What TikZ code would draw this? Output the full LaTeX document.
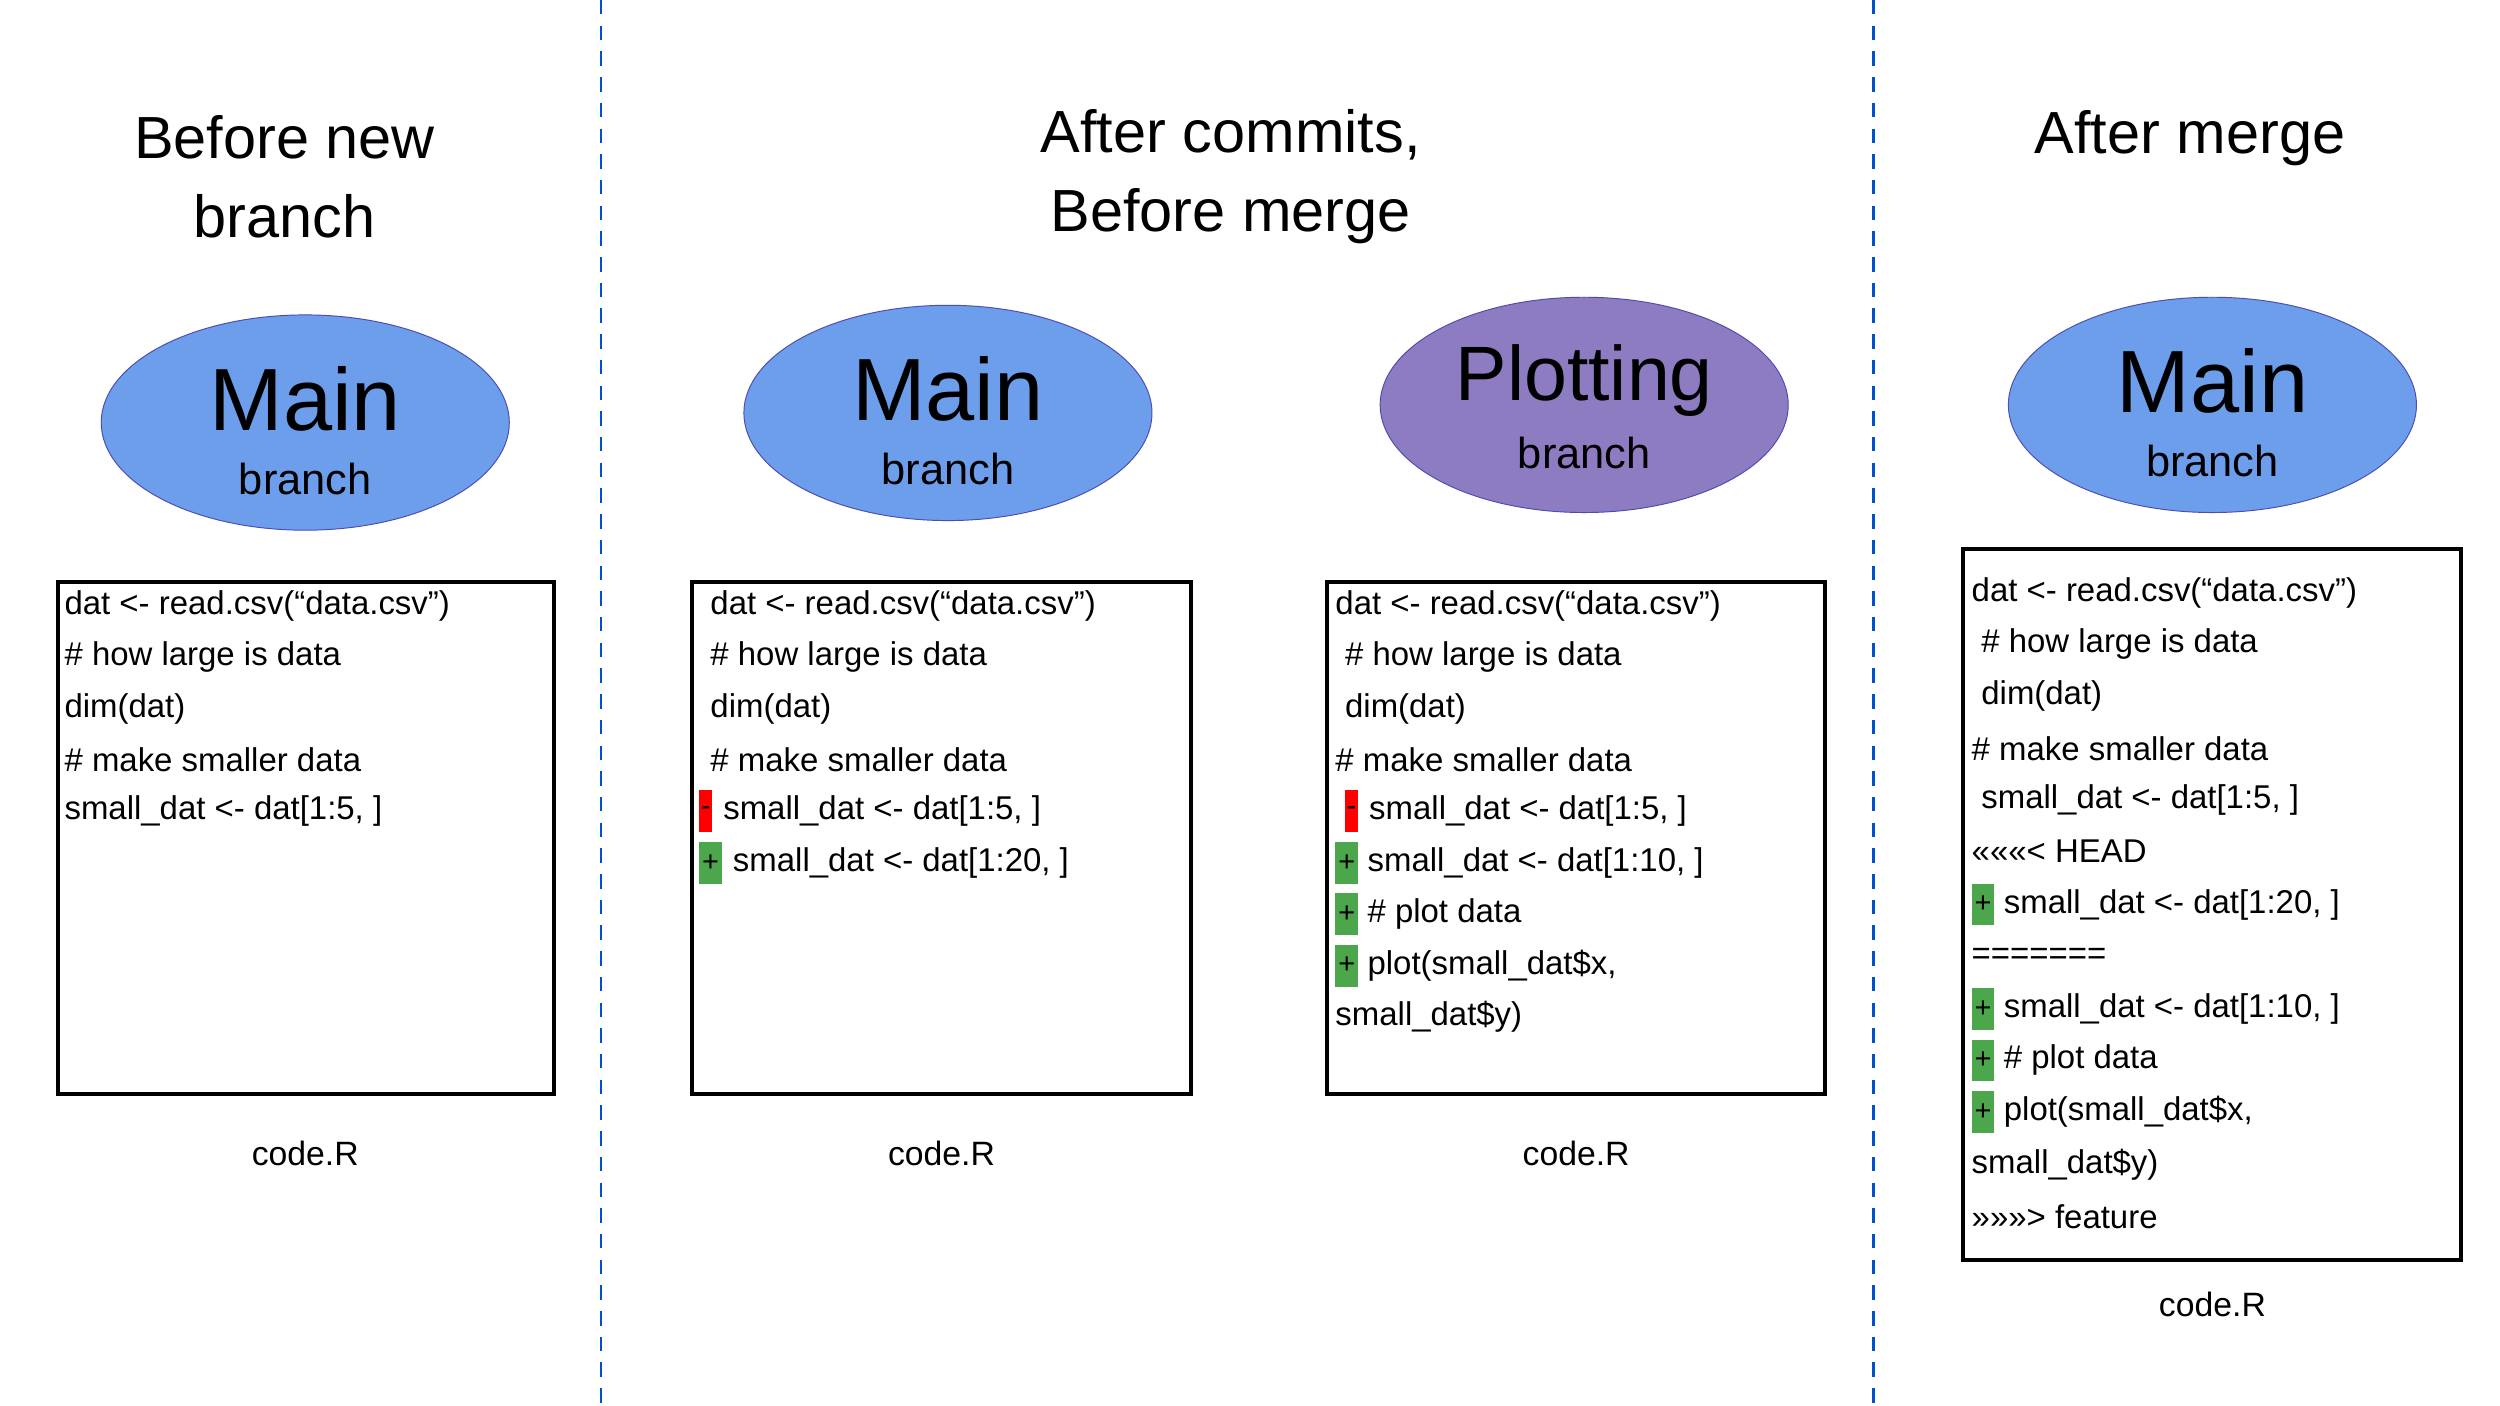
\documentclass[tikz,border=0pt]{standalone}
\usepackage{fontspec}
\setmainfont{Liberation Sans}
\begin{document}
\begin{tikzpicture}[x=1pt,y=-1pt,
  sep/.style={draw=blue!60!cyan!80!black,dashed,line width=1.6pt,dash pattern=on 9pt off 7pt},
  ttl/.style={font=\fontsize{37}{49}\selectfont,align=center,inner sep=0},
  bub/.style={ellipse,draw=blue!40!gray,line width=0.6pt,minimum width=254pt,minimum height=134pt},
  big/.style={font=\fontsize{55}{60}\selectfont,inner sep=0},
  small/.style={font=\fontsize{27}{30}\selectfont,inner sep=0},
  codebox/.style={draw=black,line width=2.5pt},
  cl/.style={anchor=west,font=\fontsize{20.5}{24}\selectfont,inner sep=0},
  fn/.style={font=\fontsize{21}{24}\selectfont,inner sep=0},
  plus/.style={fill=green!50!black!70!white,minimum width=14pt,minimum height=26pt,inner sep=0,font=\fontsize{18}{20}\selectfont,anchor=west},
  minus/.style={fill=red,minimum width=8pt,minimum height=26pt,inner sep=0,font=\fontsize{18}{20}\selectfont,anchor=west}
]
\usetikzlibrary{shapes.geometric}
\definecolor{mainblue}{HTML}{6D9EEB}
\definecolor{plotpurple}{HTML}{8E7CC3}
\fill[white] (0,0) rectangle (1556,875);
\useasboundingbox (0,0) rectangle (1556,875);
\coordinate (s1t) at (374,0); \coordinate (s1b) at (374,875);
\coordinate (s2t) at (1166,0); \coordinate (s2b) at (1166,875);
\draw[sep] (s1t) -- (s1b);
\draw[sep] (s2t) -- (s2b);
\node[ttl] (t1) at (177,110) {Before new\\branch};
\node[ttl] (t2) at (766,110) {After commits,\\Before merge};
\node[ttl] (t3) at (1363,86) {After merge};
% ellipses
\node[bub,fill=mainblue] (e1) at (190,263) {};
\node[big] (m1) at (190,248) {Main}; \node[small] (b1) at (190,298) {branch};
\node[bub,fill=mainblue] (e2) at (590,257) {};
\node[big] (m2) at (590,242) {Main}; \node[small] (b2) at (590,292) {branch};
\node[bub,fill=plotpurple] (e3) at (986,252) {};
\node[big,font=\fontsize{48}{52}\selectfont] (m3) at (986,237) {Plotting}; \node[small] (b3) at (986,282) {branch};
\node[bub,fill=mainblue] (e4) at (1377,252) {};
\node[big] (m4) at (1377,237) {Main}; \node[small] (b4) at (1377,287) {branch};
% boxes
\draw[codebox] (36,362) rectangle (345,681);
\draw[codebox] (431,362) rectangle (741,681);
\draw[codebox] (826,362) rectangle (1136,681);
\draw[codebox] (1222,342) rectangle (1532,784);
% box1
\node[cl] (a1) at (40,377) {dat <- read.csv(“data.csv”)};
\node[cl] (a2) at (40,409) {\# how large is data};
\node[cl] (a3) at (40,441) {dim(dat)};
\node[cl] (a4) at (40,473) {\# make smaller data};
\node[cl] (a5) at (40,505) {small\_dat <- dat[1:5, ]};
% box2
\node[cl] (c1) at (442,377) {dat <- read.csv(“data.csv”)};
\node[cl] (c2) at (442,409) {\# how large is data};
\node[cl] (c3) at (442,441) {dim(dat)};
\node[cl] (c4) at (442,473) {\# make smaller data};
\node[minus] (cm5) at (435,505) {-};
\node[cl] (c5) at (450,505) {small\_dat <- dat[1:5, ]};
\node[plus] (cp6) at (435,537) {+};
\node[cl] (c6) at (456,537) {small\_dat <- dat[1:20, ]};
% box3
\node[cl] (d1) at (831,377) {dat <- read.csv(“data.csv”)};
\node[cl] (d2) at (837,409) {\# how large is data};
\node[cl] (d3) at (837,441) {dim(dat)};
\node[cl] (d4) at (831,473) {\# make smaller data};
\node[minus] (dm5) at (837,505) {-};
\node[cl] (d5) at (852,505) {small\_dat <- dat[1:5, ]};
\node[plus] (dp6) at (831,537) {+};
\node[cl] (d6) at (851,537) {small\_dat <- dat[1:10, ]};
\node[plus] (dp7) at (831,569) {+};
\node[cl] (d7) at (851,569) {\# plot data};
\node[plus] (dp8) at (831,601) {+};
\node[cl] (d8) at (851,601) {plot(small\_dat\$x,};
\node[cl] (d9) at (831,633) {small\_dat\$y)};
% box4
\node[cl] (f1) at (1227,369) {dat <- read.csv(“data.csv”)};
\node[cl] (f2) at (1233,401) {\# how large is data};
\node[cl] (f3) at (1233,433) {dim(dat)};
\node[cl] (f4) at (1227,466) {\# make smaller data};
\node[cl] (f5) at (1233,498) {small\_dat <- dat[1:5, ]};
\node[cl] (f6) at (1227,530) {<<<<<<< HEAD};
\node[plus] (fp7) at (1227,563) {+};
\node[cl] (f7) at (1247,563) {small\_dat <- dat[1:20, ]};
\node[cl] (f8) at (1227,595) {=======};
\node[plus] (fp9) at (1227,628) {+};
\node[cl] (f9) at (1247,628) {small\_dat <- dat[1:10, ]};
\node[plus] (fp10) at (1227,660) {+};
\node[cl] (f10) at (1247,660) {\# plot data};
\node[plus] (fp11) at (1227,692) {+};
\node[cl] (f11) at (1247,692) {plot(small\_dat\$x,};
\node[cl] (f12) at (1227,725) {small\_dat\$y)};
\node[cl] (f13) at (1227,757) {>>>>>>> feature};
% file names
\node[fn] (n1) at (190,718) {code.R};
\node[fn] (n2) at (586,718) {code.R};
\node[fn] (n3) at (981,718) {code.R};
\node[fn] (n4) at (1377,812) {code.R};
\end{tikzpicture}
\end{document}
